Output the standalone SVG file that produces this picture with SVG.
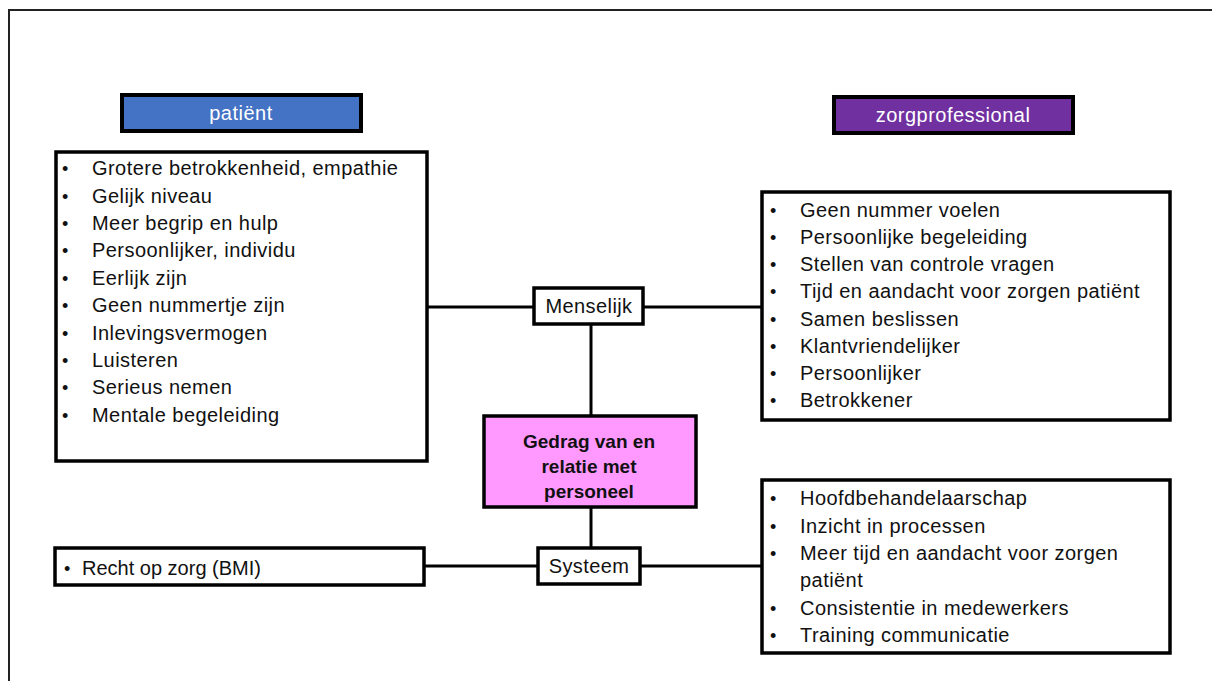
<svg xmlns="http://www.w3.org/2000/svg" width="1212" height="681" viewBox="0 0 1212 681">
  <style>
    text { font-family: "Liberation Sans", Arial, sans-serif; fill: #111; }
    .item { font-size: 20px; letter-spacing: 0.45px; }
    .bul { font-size: 18px; }
    .head { font-size: 20px; letter-spacing: 0.5px; fill: #fff; text-anchor: middle; }
    .lbl { font-size: 20px; letter-spacing: 0.4px; text-anchor: middle; }
    .core { font-size: 19px; font-weight: bold; text-anchor: middle; }
    .box { fill: #fff; stroke: #000; stroke-width: 3.5; }
    .link { stroke: #000; stroke-width: 3; fill: none; }
  </style>

  <!-- frame -->
  <path d="M9 681 V10 H1212" fill="none" stroke="#222" stroke-width="2"/>

  <!-- connectors -->
  <g id="connectors">
    <line class="link" x1="428" y1="307" x2="533" y2="307"/>
    <line class="link" x1="644" y1="307" x2="761" y2="307"/>
    <line class="link" x1="591" y1="325" x2="591" y2="415"/>
    <line class="link" x1="591" y1="508" x2="591" y2="547"/>
    <line class="link" x1="425" y1="566" x2="537" y2="566"/>
    <line class="link" x1="641" y1="566" x2="761" y2="566"/>
  </g>

  <!-- heading: patient -->
  <g id="head-patient">
    <rect x="122" y="95" width="239" height="36" fill="#4472C4" stroke="#000" stroke-width="4"/>
    <text class="head" x="241" y="120">patiënt</text>
  </g>

  <!-- heading: care professional -->
  <g id="head-professional">
    <rect x="834" y="97" width="239" height="36" fill="#7030A0" stroke="#000" stroke-width="4"/>
    <text class="head" x="953" y="122">zorgprofessional</text>
  </g>

  <!-- patient list -->
  <g id="list-patient">
    <rect class="box" x="56" y="152" width="371" height="309"/>
    <g class="bul">
      <text x="62" y="175">•</text><text x="62" y="202.5">•</text><text x="62" y="230">•</text>
      <text x="62" y="257">•</text><text x="62" y="284.5">•</text><text x="62" y="312">•</text>
      <text x="62" y="339.5">•</text><text x="62" y="367">•</text><text x="62" y="394">•</text>
      <text x="62" y="421.5">•</text>
    </g>
    <g class="item">
      <text x="92" y="175">Grotere betrokkenheid, empathie</text>
      <text x="92" y="202.5">Gelijk niveau</text>
      <text x="92" y="230">Meer begrip en hulp</text>
      <text x="92" y="257">Persoonlijker, individu</text>
      <text x="92" y="284.5">Eerlijk zijn</text>
      <text x="92" y="312">Geen nummertje zijn</text>
      <text x="92" y="339.5">Inlevingsvermogen</text>
      <text x="92" y="367">Luisteren</text>
      <text x="92" y="394">Serieus nemen</text>
      <text x="92" y="421.5">Mentale begeleiding</text>
    </g>
  </g>

  <!-- professional list (human) -->
  <g id="list-professional-human">
    <rect class="box" x="762" y="192" width="408" height="228"/>
    <g class="bul">
      <text x="770" y="217">•</text><text x="770" y="244">•</text><text x="770" y="271">•</text>
      <text x="770" y="298">•</text><text x="770" y="326">•</text><text x="770" y="353">•</text>
      <text x="770" y="380">•</text><text x="770" y="407">•</text>
    </g>
    <g class="item">
      <text x="800" y="217">Geen nummer voelen</text>
      <text x="800" y="244">Persoonlijke begeleiding</text>
      <text x="800" y="271">Stellen van controle vragen</text>
      <text x="800" y="298">Tijd en aandacht voor zorgen patiënt</text>
      <text x="800" y="326">Samen beslissen</text>
      <text x="800" y="353">Klantvriendelijker</text>
      <text x="800" y="380">Persoonlijker</text>
      <text x="800" y="407">Betrokkener</text>
    </g>
  </g>

  <!-- professional list (system) -->
  <g id="list-professional-system">
    <rect class="box" x="762" y="480" width="408" height="173"/>
    <g class="bul">
      <text x="770" y="505">•</text><text x="770" y="533">•</text><text x="770" y="560">•</text>
      <text x="770" y="615">•</text><text x="770" y="642">•</text>
    </g>
    <g class="item">
      <text x="800" y="505">Hoofdbehandelaarschap</text>
      <text x="800" y="533">Inzicht in processen</text>
      <text x="800" y="560">Meer tijd en aandacht voor zorgen</text>
      <text x="800" y="587">patiënt</text>
      <text x="800" y="615">Consistentie in medewerkers</text>
      <text x="800" y="642">Training communicatie</text>
    </g>
  </g>

  <!-- patient list (system) -->
  <g id="list-patient-system">
    <rect class="box" x="55" y="548" width="369" height="37"/>
    <text class="bul" x="64" y="575">•</text>
    <text class="item" x="82" y="575" style="letter-spacing:0">Recht op zorg (BMI)</text>
  </g>

  <!-- category: human -->
  <g id="node-menselijk">
    <rect class="box" x="534" y="288" width="109" height="36"/>
    <text class="lbl" x="589" y="313">Menselijk</text>
  </g>

  <!-- category: system -->
  <g id="node-systeem">
    <rect class="box" x="538" y="548" width="102" height="36"/>
    <text class="lbl" x="589" y="573">Systeem</text>
  </g>

  <!-- central topic -->
  <g id="node-core">
    <rect x="484" y="416" width="212" height="91" fill="#FF99FF" stroke="#000" stroke-width="3.5"/>
    <text class="core" x="589" y="448">Gedrag van en</text>
    <text class="core" x="589" y="473">relatie met</text>
    <text class="core" x="589" y="498">personeel</text>
  </g>
</svg>
